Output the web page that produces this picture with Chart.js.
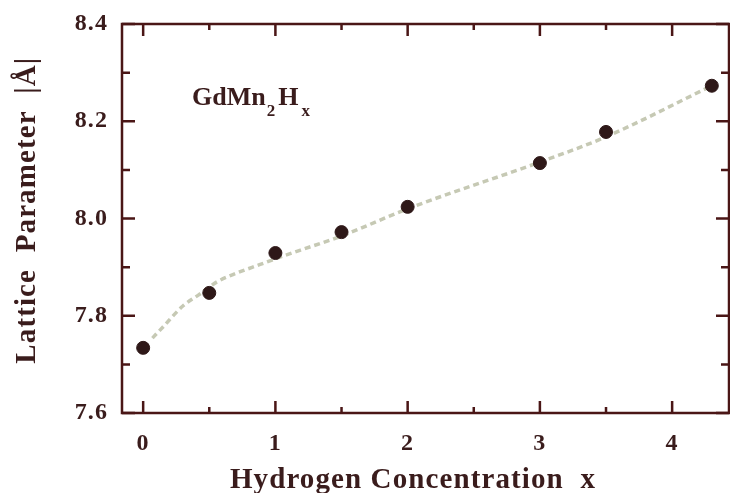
<!DOCTYPE html>
<html>
<head>
<meta charset="utf-8">
<script src="https://cdn.jsdelivr.net/npm/chart.js@4"></script>
<style>
  html, body { margin: 0; padding: 0; background: #fff; }
  #wrap { width: 730px; height: 493px; }
</style>
</head>
<body>
<div id="wrap"><canvas id="latticeChart" width="730" height="493"></canvas></div>
<script>
// --- data ---
const hydrogenX = [0, 0.5, 1, 1.5, 2, 3, 3.5, 4.3];
const latticeA = [7.734, 7.847, 7.929, 7.972, 8.024, 8.114, 8.178, 8.273];

// dashed guide line through the points
const fitX = [0.07, 0.15, 0.30, 0.42, 0.56, 0.71, 0.88, 1.04, 1.19, 1.5, 2.0, 3.0, 3.5, 4.3];
const fitY = [7.754, 7.777, 7.820, 7.843, 7.870, 7.888, 7.905, 7.921, 7.935, 7.964, 8.020, 8.116, 8.168, 8.273];

const xMajor = [0, 1, 2, 3, 4];
const xMinor = [0.5, 1.5, 2.5, 3.5];
const yMajor = [7.6, 7.8, 8.0, 8.2, 8.4];
const yMinor = [7.7, 7.9, 8.1, 8.3];

const ink = '#3a1c1c';
const axisInk = '#4a1616';
const serif = "'Liberation Serif', 'Times New Roman', serif";

// box + inward ticks + compound label
const framePlugin = {
  id: 'frame',
  beforeDraw(chart) {
    chart.ctx.letterSpacing = '1.1px';
  },
  afterDraw(chart) {
    const ctx = chart.ctx;
    const a = chart.chartArea;
    const xs = chart.scales.x, ys = chart.scales.y;
    ctx.save();
    ctx.letterSpacing = '0px';
    ctx.strokeStyle = axisInk;
    ctx.lineWidth = 2.5;
    ctx.strokeRect(a.left, a.top, a.right - a.left, a.bottom - a.top);
    ctx.beginPath();
    xMajor.concat(xMinor).forEach(v => {
      const len = xMajor.includes(v) ? 12 : 6;
      const px = xs.getPixelForValue(v);
      ctx.moveTo(px, a.bottom); ctx.lineTo(px, a.bottom - len);
      ctx.moveTo(px, a.top); ctx.lineTo(px, a.top + len);
    });
    yMajor.concat(yMinor).forEach(v => {
      const len = yMajor.includes(v) ? 13 : 8;
      const py = ys.getPixelForValue(v);
      ctx.moveTo(a.left, py); ctx.lineTo(a.left + len, py);
      ctx.moveTo(a.right, py); ctx.lineTo(a.right - len, py);
    });
    ctx.stroke();

    // GdMn2Hx
    let px = xs.getPixelForValue(0.37);
    const base = ys.getPixelForValue(8.234);
    ctx.fillStyle = ink;
    ctx.textBaseline = 'alphabetic';
    ctx.textAlign = 'left';
    const big = 'bold 26px ' + serif, small = 'bold 17px ' + serif;
    [['GdMn', big, 0, 1], ['2', small, 11, 3], ['H', big, 0, 3], ['x', small, 11, 0]].forEach(([t, f, dy, gap]) => {
      ctx.font = f;
      ctx.fillText(t, px, base + dy);
      px += ctx.measureText(t).width + gap;
    });
    ctx.restore();
  }
};

const ctx = document.getElementById('latticeChart').getContext('2d');
new Chart(ctx, {
  type: 'scatter',
  data: {
    datasets: [
      {
        label: 'fit',
        data: fitX.map((x, i) => ({ x, y: fitY[i] })),
        showLine: true,
        borderColor: '#c6c9b4',
        borderWidth: 3.5,
        borderDash: [6, 4],
        cubicInterpolationMode: 'monotone',
        pointRadius: 0,
        order: 2
      },
      {
        label: 'GdMn2Hx',
        data: hydrogenX.map((x, i) => ({ x, y: latticeA[i] })),
        backgroundColor: '#2e1818',
        borderColor: '#2e1818',
        pointRadius: 6.5,
        order: 1
      }
    ]
  },
  options: {
    responsive: false,
    animation: false,
    events: [],
    layout: { autoPadding: false, padding: { top: 24, right: 1, left: 0, bottom: 0 } },
    plugins: { legend: { display: false }, tooltip: { enabled: false } },
    scales: {
      x: {
        type: 'linear',
        min: -0.16,
        max: 4.43,
        afterFit: s => { s.height = 80; s.paddingLeft = 0; s.paddingRight = 0; },
        afterBuildTicks: s => { s.ticks = xMajor.map(v => ({ value: v })); },
        grid: { display: false, drawTicks: false },
        border: { display: false },
        ticks: {
          padding: 16,
          color: ink,
          font: { family: serif, size: 24, weight: 'bold' },
          callback: v => String(v)
        },
        title: {
          display: true,
          text: 'Hydrogen Concentration  x   ',
          color: ink,
          font: { family: serif, size: 29, weight: 'bold' },
          padding: { top: 0, bottom: -5 }
        }
      },
      y: {
        min: 7.6,
        max: 8.4,
        afterFit: s => { s.width = 122; s.paddingTop = 0; s.paddingBottom = 0; },
        afterBuildTicks: s => { s.ticks = yMajor.map(v => ({ value: v })); },
        grid: { display: false, drawTicks: false },
        border: { display: false },
        ticks: {
          padding: 14,
          color: ink,
          font: { family: serif, size: 24, weight: 'bold' },
          callback: v => v.toFixed(1)
        },
        title: {
          display: true,
          text: '  Lattice  Parameter  |Å|',
          color: ink,
          font: { family: serif, size: 29, weight: 'bold' },
          padding: { top: 10, bottom: 0 }
        }
      }
    }
  },
  plugins: [framePlugin]
});
</script>
</body>
</html>
